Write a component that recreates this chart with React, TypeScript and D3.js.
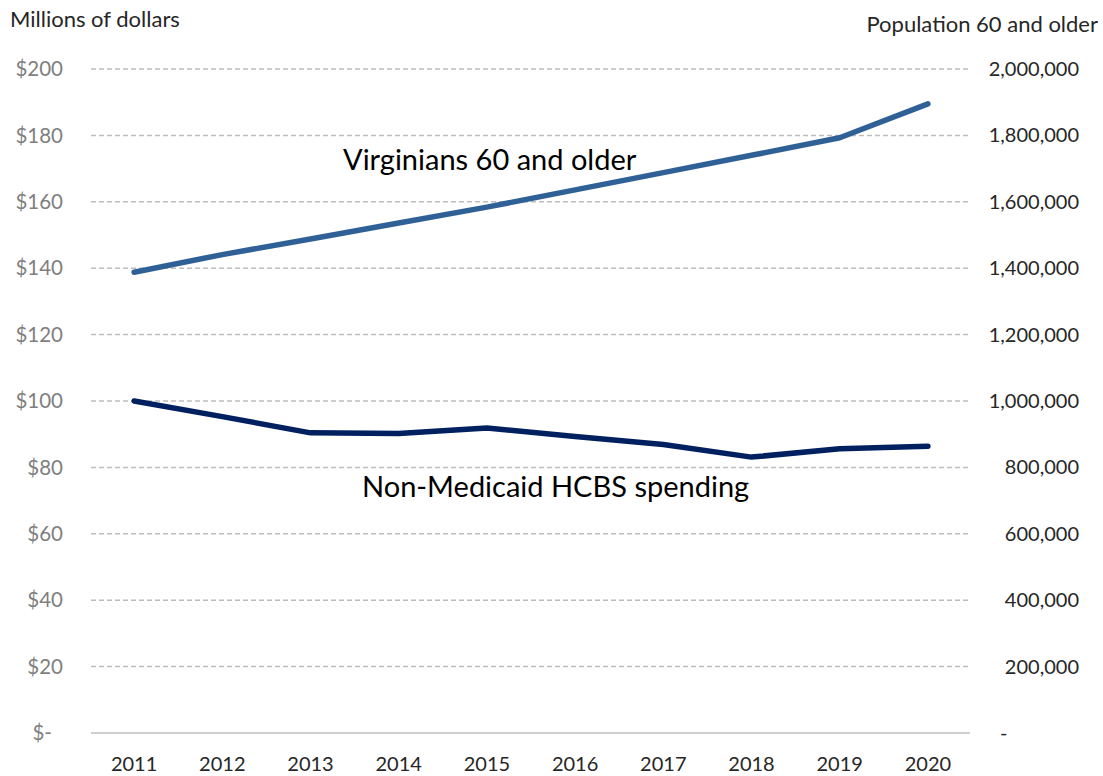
import React, { useEffect, useRef } from 'react';
import * as d3 from 'd3';

const years = ['2011', '2012', '2013', '2014', '2015', '2016', '2017', '2018', '2019', '2020'];
const spending = [100, 95.3, 90.4, 90.2, 91.9, 89.3, 86.9, 83.1, 85.6, 86.4];
const population = [1388000, 1441000, 1488000, 1536000, 1584000, 1636000, 1688000, 1740000, 1793000, 1895000];
const dollarTicks = [0, 20, 40, 60, 80, 100, 120, 140, 160, 180, 200];
const popTicks = [0, 200000, 400000, 600000, 800000, 1000000, 1200000, 1400000, 1600000, 1800000, 2000000];

const FONT = 'Lato, "Open Sans", sans-serif';

const App = () => {
  const svgRef = useRef<SVGSVGElement>(null);

  useEffect(() => {
    const svg = d3.select(svgRef.current);
    svg.selectAll('*').remove();

    const width = 1103;
    const height = 776;
    const left = 90;
    const right = 972;
    const top = 69;
    const bottom = 733;

    const x = d3.scaleBand().domain(years).range([left, right]);
    const yL = d3.scaleLinear().domain([0, 200]).range([bottom, top]);
    const yR = d3.scaleLinear().domain([0, 2000000]).range([bottom, top]);

    svg.attr('width', width).attr('height', height);

    // gridlines
    svg.append('g')
      .selectAll('line')
      .data(dollarTicks.filter((d) => d > 0))
      .enter()
      .append('line')
      .attr('x1', left + 1)
      .attr('x2', right - 4)
      .attr('y1', (d) => yL(d))
      .attr('y2', (d) => yL(d))
      .attr('stroke', '#bdbdbd')
      .attr('stroke-width', 1.5)
      .attr('stroke-dasharray', '5,3');

    // baseline
    svg.append('line')
      .attr('x1', left + 1)
      .attr('x2', right - 2)
      .attr('y1', bottom)
      .attr('y2', bottom)
      .attr('stroke', '#bfbfbf')
      .attr('stroke-width', 1.5);

    // left axis labels
    svg.append('g')
      .selectAll('text')
      .data(dollarTicks)
      .enter()
      .append('text')
      .attr('x', (d) => (d === 0 ? 52 : 63))
      .attr('y', (d) => yL(d))
      .attr('dy', '0.35em')
      .attr('text-anchor', 'end')
      .attr('font-family', FONT)
      .attr('font-size', 20.5)
      .attr('fill', '#7f7f7f')
      .text((d) => (d === 0 ? '$-' : `$${d}`));

    // right axis labels
    svg.append('g')
      .selectAll('text')
      .data(popTicks)
      .enter()
      .append('text')
      .attr('x', (d) => (d === 0 ? 1000 : 1079))
      .attr('y', (d) => yR(d))
      .attr('dy', '0.35em')
      .attr('text-anchor', (d) => (d === 0 ? 'start' : 'end'))
      .attr('font-family', FONT)
      .attr('font-size', 20)
      .attr('fill', '#262626')
      .text((d) => (d === 0 ? '-' : d3.format(',')(d)));

    // x labels
    svg.append('g')
      .selectAll('text')
      .data(years)
      .enter()
      .append('text')
      .attr('x', (d) => x(d)! + x.bandwidth() / 2)
      .attr('y', 771)
      .attr('text-anchor', 'middle')
      .attr('font-family', FONT)
      .attr('font-size', 20)
      .attr('fill', '#262626')
      .text((d) => d);

    // axis titles
    svg.append('text')
      .attr('x', 10)
      .attr('y', 27)
      .attr('font-family', FONT)
      .attr('font-size', 22)
      .attr('fill', '#262626')
      .text('Millions of dollars');

    svg.append('text')
      .attr('x', 1098)
      .attr('y', 32)
      .attr('text-anchor', 'end')
      .attr('font-family', FONT)
      .attr('font-size', 22)
      .attr('fill', '#262626')
      .text('Population 60 and older');

    // lines
    const cx = (i: number) => x(years[i])! + x.bandwidth() / 2;

    const popLine = d3.line<number>()
      .x((d, i) => cx(i))
      .y((d) => yR(d));

    const spendLine = d3.line<number>()
      .x((d, i) => cx(i))
      .y((d) => yL(d));

    svg.append('path')
      .datum(population)
      .attr('d', popLine)
      .attr('fill', 'none')
      .attr('stroke', '#2f6196')
      .attr('stroke-width', 5.5)
      .attr('stroke-linecap', 'round')
      .attr('stroke-linejoin', 'round');

    svg.append('path')
      .datum(spending)
      .attr('d', spendLine)
      .attr('fill', 'none')
      .attr('stroke', '#002060')
      .attr('stroke-width', 5.5)
      .attr('stroke-linecap', 'round')
      .attr('stroke-linejoin', 'round');

    // annotations
    svg.append('text')
      .attr('x', 343)
      .attr('y', 170)
      .attr('font-family', FONT)
      .attr('font-size', 29)
      .attr('fill', '#000')
      .text('Virginians 60 and older');

    svg.append('text')
      .attr('x', 362)
      .attr('y', 497)
      .attr('font-family', FONT)
      .attr('font-size', 29)
      .attr('fill', '#000')
      .text('Non-Medicaid HCBS spending');
  }, []);

  return (
    <div style={{ position: 'absolute', left: 0, top: 0, background: '#fff' }}>
      <svg ref={svgRef} style={{ display: 'block' }}></svg>
    </div>
  );
};

export default App;
